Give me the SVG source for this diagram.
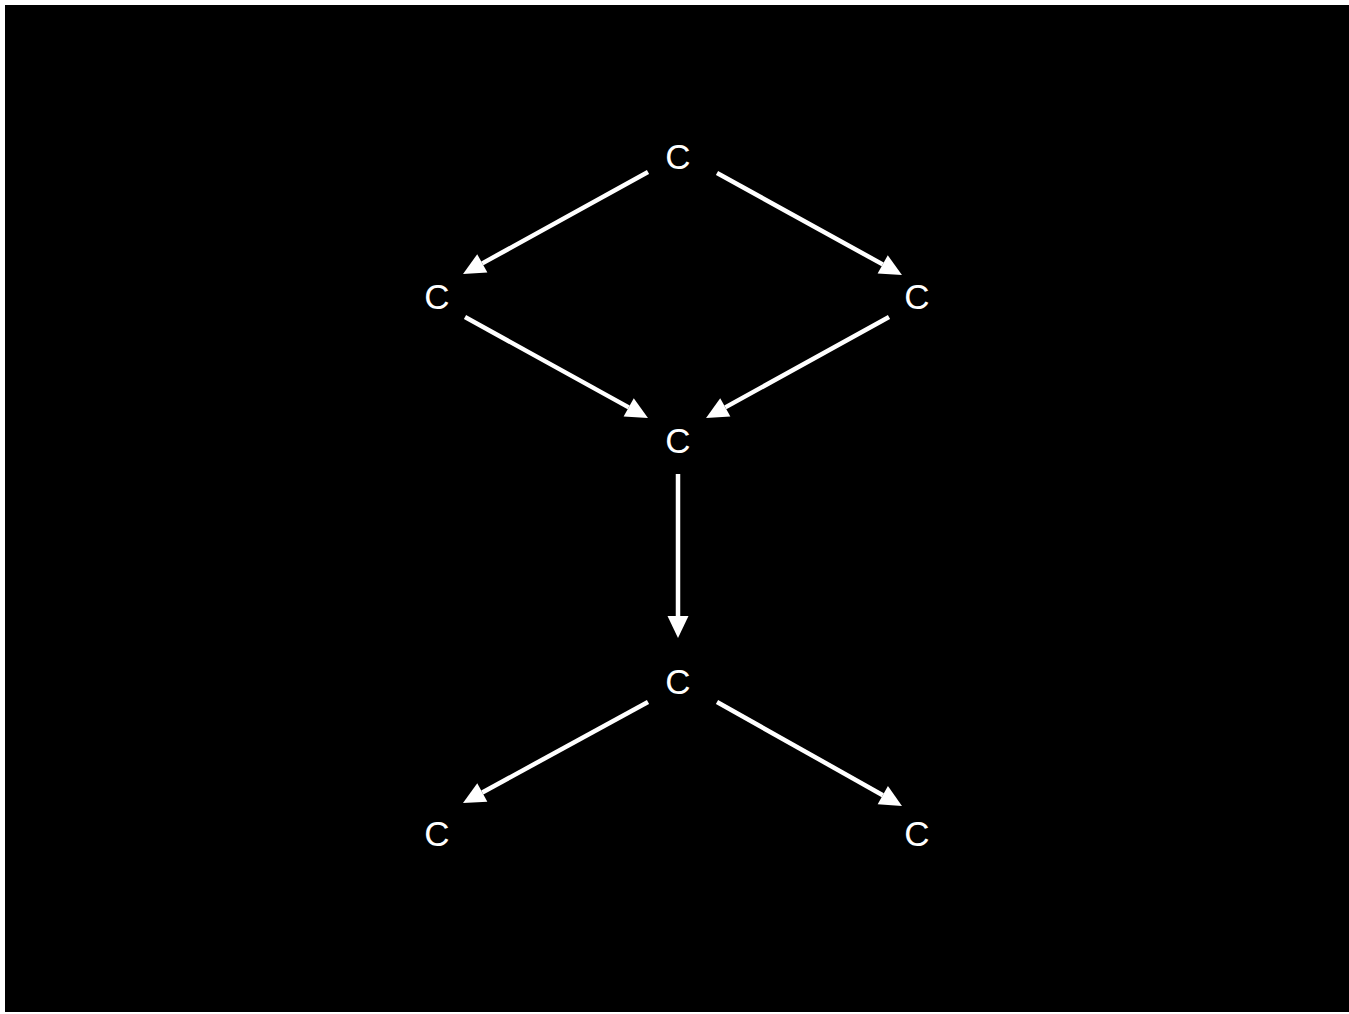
<svg xmlns="http://www.w3.org/2000/svg" width="1349" height="1014" viewBox="0 0 1349 1014">
<style>
.lbl{font-family:"Liberation Sans",Arial,sans-serif;font-size:35px;fill:#fff;text-anchor:middle}
.edge{stroke:#fff;stroke-width:4.5;fill:none}
</style>
<defs>
<marker id="arr" markerUnits="userSpaceOnUse" markerWidth="24" markerHeight="24" refX="0" refY="10.5" orient="auto" overflow="visible">
<path d="M0,0 L22,10.5 L0,21 z" fill="#fff"/>
</marker>
</defs>
<rect width="1349" height="1014" fill="#fff"/>
<rect x="5" y="5" width="1344" height="1007" fill="#000"/>
<g id="connectors">
<line class="edge" x1="648" y1="172" x2="482.3" y2="263.4" marker-end="url(#arr)"/>
<line class="edge" x1="717" y1="173" x2="882.7" y2="264.4" marker-end="url(#arr)"/>
<line class="edge" x1="465" y1="317" x2="628.7" y2="407.4" marker-end="url(#arr)"/>
<line class="edge" x1="889" y1="317" x2="725.3" y2="407.4" marker-end="url(#arr)"/>
<line class="edge" x1="678" y1="474" x2="678" y2="616" marker-end="url(#arr)"/>
<line class="edge" x1="648" y1="702" x2="482.3" y2="792.5" marker-end="url(#arr)"/>
<line class="edge" x1="717" y1="702" x2="882.8" y2="795.2" marker-end="url(#arr)"/>
</g>
<g id="n1"><text class="lbl" x="678" y="169">C</text></g>
<g id="n2"><text class="lbl" x="437" y="309">C</text></g>
<g id="n3"><text class="lbl" x="917" y="309">C</text></g>
<g id="n4"><text class="lbl" x="678" y="453">C</text></g>
<g id="n5"><text class="lbl" x="678" y="694">C</text></g>
<g id="n6"><text class="lbl" x="437" y="846">C</text></g>
<g id="n7"><text class="lbl" x="917" y="846">C</text></g>
</svg>
